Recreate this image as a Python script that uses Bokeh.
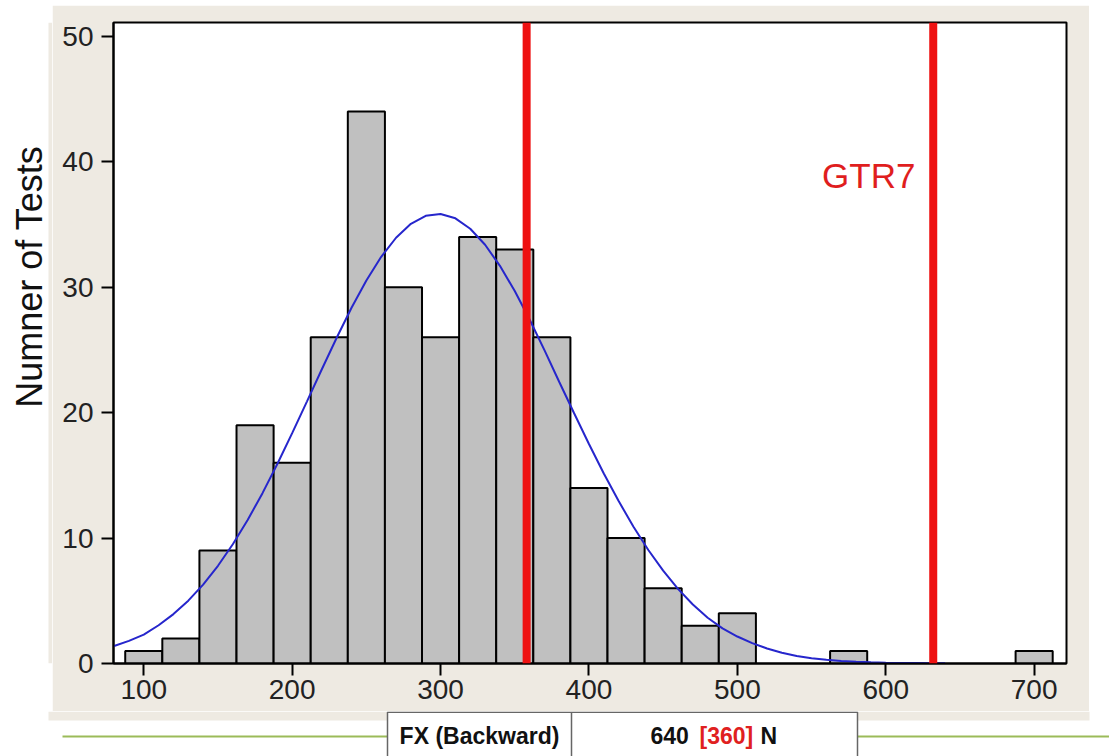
from bokeh.plotting import figure
from bokeh.models import Range1d, Span, Label, FixedTicker, ColumnDataSource, Spacer
from bokeh.layouts import column, row
from bokeh.embed import file_html
from bokeh.resources import INLINE
from bokeh.core.properties import value

# ---------------- data ----------------
bin_centers = [100, 125, 150, 175, 200, 225, 250, 275, 300, 325, 350, 375,
               400, 425, 450, 475, 500, 575, 700]
counts = [1, 2, 9, 19, 16, 26, 44, 30, 26, 34, 33, 26, 14, 10, 6, 3, 4, 1, 1]
bin_width = 25

curve_x = [80, 90, 100, 110, 120, 130, 140, 150, 160, 170, 180, 190, 200,
           210, 220, 230, 240, 250, 260, 270, 280, 290, 300, 310, 320, 330,
           340, 350, 360, 370, 380, 390, 400, 410, 420, 430, 440, 450, 460,
           470, 480, 490, 500, 510, 520, 530, 540, 550, 560, 570, 580, 590,
           600, 610, 620, 630, 640]
curve_y = [1.40, 1.80, 2.30, 3.05, 3.94, 5.01, 6.29, 7.79, 9.51, 11.44, 13.58,
           15.90, 18.36, 20.90, 23.46, 25.97, 28.36, 30.53, 32.42, 33.94, 35.05,
           35.69, 35.84, 35.49, 34.66, 33.38, 31.70, 29.69, 27.42, 24.98, 22.44,
           19.95, 17.50, 15.15, 12.95, 10.90, 9.05, 7.40, 5.95, 4.70, 3.65, 2.80,
           2.15, 1.62, 1.20, 0.86, 0.60, 0.42, 0.29, 0.20, 0.13, 0.09, 0.06,
           0.04, 0.03, 0.02, 0.01]

limit_values = [358, 632]
limit_label = "GTR7"
x_ticks = [100, 200, 300, 400, 500, 600, 700]
y_ticks = [0, 10, 20, 30, 40, 50]
y_label = "Numner of Tests"
table_left = "FX (Backward)"
table_right = ["640", "[360]", "N"]

# ---------------- styles ----------------
BEIGE = "#EEEAE2"
RED = "#EE1111"
BLUE = "#2626CC"
GREEN = "#9BBB59"
TICK_FONT = "Liberation Sans"

TOP_H = 706

# ---------------- main histogram ----------------
p = figure(width=1037, height=TOP_H, output_backend="svg", toolbar_location=None,
           x_range=Range1d(79.6, 721.8), y_range=Range1d(0, 51.1),
           min_border_left=61, min_border_right=23, min_border_top=17,
           min_border_bottom=48, background_fill_color="white",
           border_fill_color=BEIGE, outline_line_color="black",
           outline_line_width=2)
p.xgrid.visible = False
p.ygrid.visible = False

src = ColumnDataSource(dict(
    left=[c - bin_width / 2 for c in bin_centers],
    right=[c + bin_width / 2 for c in bin_centers],
    top=counts,
    bottom=[0] * len(counts)))
p.quad(left="left", right="right", top="top", bottom="bottom", source=src,
       fill_color="#C0C0C0", line_color="black", line_width=2)

p.line(curve_x, curve_y, line_color=BLUE, line_width=2)

for v in limit_values:
    p.add_layout(Span(location=v, dimension="height", line_color=RED,
                      line_width=8))

p.add_layout(Label(x=620, y=38.9, text=limit_label, text_align="right",
                   text_baseline="alphabetic", text_color="#E01E1E",
                   text_font="Liberation Sans", text_font_size="35px"))

p.xaxis.ticker = FixedTicker(ticks=x_ticks)
p.yaxis.ticker = FixedTicker(ticks=y_ticks)
for ax in (p.xaxis[0], p.yaxis[0]):
    ax.axis_line_color = "black"
    ax.axis_line_width = 2
    ax.major_tick_line_color = "black"
    ax.major_tick_line_width = 2
    ax.major_tick_out = 12
    ax.major_tick_in = 0
    ax.minor_tick_out = 0
    ax.minor_tick_in = 0
    ax.major_label_text_font = TICK_FONT
    ax.major_label_text_font_size = "28px"
    ax.major_label_text_color = "#222222"
p.xaxis.major_label_standoff = 4
p.yaxis.major_label_standoff = 8

# ---------------- y label panel ----------------
lab = figure(width=52, height=TOP_H, output_backend="svg", toolbar_location=None,
             x_range=Range1d(0, 52), y_range=Range1d(0, TOP_H),
             x_axis_type=None, y_axis_type=None, min_border=0,
             outline_line_color=None, background_fill_color="white",
             border_fill_color="white")
lab.quad(left=[48], right=[52], bottom=[0], top=[TOP_H], fill_color=BEIGE,
         line_color=None)
lab.text(x=[29], y=[426], text=[y_label], angle=1.5707963, text_align="center",
         text_baseline="middle", text_font=value("Liberation Sans"),
         text_font_size="36px", text_color="#111111")

# ---------------- bottom strip with table ----------------
bot = figure(width=1109, height=45, output_backend="svg", toolbar_location=None,
             x_range=Range1d(0, 1109), y_range=Range1d(0, 45),
             x_axis_type=None, y_axis_type=None, min_border=0,
             outline_line_color=None, background_fill_color="white",
             border_fill_color="white")
bot.quad(left=[48], right=[1089], bottom=[36], top=[45], fill_color=BEIGE,
         line_color=None)
bot.segment(x0=[62], y0=[20], x1=[1109], y1=[20], line_color=GREEN,
            line_width=2)
bot.quad(left=[387], right=[857], bottom=[-5], top=[44.2], fill_color="white",
         line_color="#666666", line_width=1.5)
bot.segment(x0=[571], y0=[-5], x1=[571], y1=[44.2], line_color="#666666",
            line_width=1.5)
bot.text(x=[479], y=[21], text=[table_left], text_align="center",
         text_baseline="middle", text_font=value("Liberation Sans"),
         text_font_style="bold", text_font_size="23px", text_color="#111111")
bot.text(x=[650, 699, 760], y=[21, 21, 21], text=table_right,
         text_align="left", text_baseline="middle",
         text_font=value("Liberation Sans"), text_font_style="bold",
         text_font_size="23px", text_color=["#111111", "#E02020", "#111111"])

layout = column(Spacer(width=1109, height=5), row(lab, p), bot)
open("out.html", "w").write(file_html(layout, INLINE))
